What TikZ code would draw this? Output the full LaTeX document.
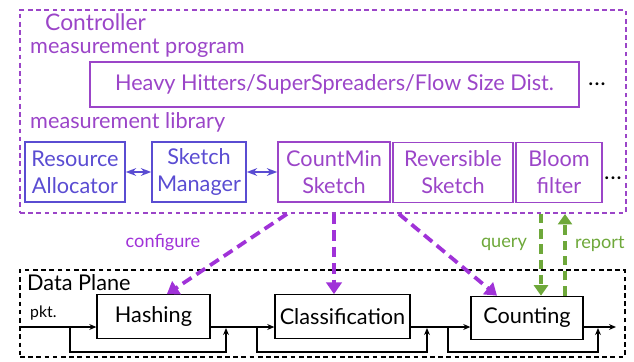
\documentclass[tikz,border=0pt]{standalone}
\usepackage{fontspec}
\setmainfont{Lato}
\usetikzlibrary{arrows.meta}
\definecolor{ctrlpurple}{HTML}{9B45C8}
\definecolor{libblue}{HTML}{5A4CD2}
\definecolor{cfgpurple}{HTML}{A032D8}
\definecolor{qgreen}{HTML}{6EA83A}
\tikzset{
  ctrlbox/.style={draw=ctrlpurple, line width=1.6pt, dash pattern=on 4pt off 3pt},
  dpbox/.style={draw=black, line width=1.6pt, dash pattern=on 4pt off 3pt},
  sketchbox/.style={draw=ctrlpurple, line width=1.3pt, text=ctrlpurple, align=center, inner sep=0pt, minimum height=1.8cm},
  allocbox/.style={sketchbox, draw=libblue, text=libblue},
  stagebox/.style={draw=black, line width=1.1pt, inner sep=0pt, minimum height=1.3cm},
  cfgarrow/.style={draw=cfgpurple, line width=3.2pt, dash pattern=on 9pt off 5pt, -{Triangle[width=13pt,length=10pt]}},
  qarrow/.style={draw=qgreen, line width=3pt, dash pattern=on 8pt off 5pt, -{Triangle[width=12pt,length=9pt]}},
  flow/.style={line width=1pt, -{Stealth[length=6pt,width=5pt]}},
  lbl/.style={inner sep=0pt, anchor=west},
  small/.style={font=\fontsize{15.5}{18}\selectfont},
  more/.style={font=\bfseries\fontsize{16}{18}\selectfont}
}
\begin{document}
\begin{tikzpicture}[>=Stealth, x=0.03cm, y=-0.03cm, font=\fontsize{18.5}{23}\selectfont]
\useasboundingbox (0,0) rectangle (634,362);
% controller
\node[ctrlbox, minimum width=18.18cm, minimum height=6.09cm] (ctrl) at (323,111.5) {};
\node[lbl, text=ctrlpurple, font=\fontsize{19.5}{22}\selectfont] (ctrltitle) at (45,22) {Controller};
\node[lbl, text=ctrlpurple] (progtitle) at (30,48) {measurement program};
\node[lbl, text=ctrlpurple] (libtitle) at (30,122) {measurement library};
\node[sketchbox, minimum width=14.67cm, minimum height=1.35cm] (prog) at (334.5,84.5) {Heavy Hitters/SuperSpreaders/Flow Size Dist.};
\node[more] (progmore) at (597,84) {.\kern1.5pt.\kern1.5pt.};
\node[allocbox, minimum width=3cm] (alloc) at (75,172) {Resource\\Allocator};
\node[allocbox, minimum width=2.82cm] (mgr) at (199,172) {Sketch\\Manager};
\node[sketchbox, minimum width=3.36cm] (cms) at (334,172) {CountMin\\Sketch};
\node[sketchbox, minimum width=3.6cm] (rev) at (453,172.5) {Reversible\\Sketch};
\node[sketchbox, minimum width=2.58cm] (bloom) at (559,172.5) {Bloom\\filter};
\node[more] (libmore) at (613,178) {.\kern1.5pt.\kern1.5pt.};
\draw[libblue, line width=1.3pt, <->] (alloc) -- (mgr);
\draw[libblue, line width=1.3pt, <->] (mgr) -- (cms);
% data plane
\node[dpbox, minimum width=18.15cm, minimum height=2.61cm] (dp) at (322.5,313.5) {};
\node[lbl] (dptitle) at (27,283) {Data Plane};
\node[lbl, font=\fontsize{13.5}{15}\selectfont] (pkt) at (30,313) {pkt.};
\node[stagebox, minimum width=3.39cm] (hash) at (153.5,316.5) {Hashing};
\node[stagebox, minimum width=4.05cm] (cls) at (342.5,316.5) {Classification};
\node[stagebox, minimum width=3.36cm] (cnt) at (527,318) {Counting};
\coordinate (pin) at (20,327);
\coordinate (pout) at (616,327);
\draw[flow] (pin) -- (pin -| hash.west);
\draw[flow] (hash.east |- pin) -- (cls.west |- pin);
\draw[flow] (cls.east |- pin) -- (cnt.west |- pin);
\draw[flow] (cnt.east |- pin) -- (pout);
\foreach \a/\b in {70/226, 257/427, 448/598}
{
    \draw[flow] (\a,327) -- (\a,352) -- (\b,352) -- (\b,328);
}
% controller to data plane
\draw[cfgarrow] ([xshift=-1.41cm]cms.south |- ctrl.south) -- ([xshift=0.4cm]hash.north);
\draw[cfgarrow] (cms.south |- ctrl.south) -- (cms.south |- cls.north);
\draw[cfgarrow] ([xshift=0.2cm]rev.south west |- ctrl.south) -- ([xshift=-0.9cm]cnt.north);
\node[small, text=cfgpurple] (cfglbl) at (163,242) {configure};
\draw[qarrow] ([xshift=-0.54cm]bloom.south |- ctrl.south) -- ([xshift=-0.54cm]bloom.south |- cnt.north);
\draw[qarrow] ([xshift=0.18cm]bloom.south |- cnt.north) -- ([xshift=0.18cm]bloom.south |- ctrl.south);
\node[small, text=qgreen, anchor=east] (qlbl) at (531,244) {query};
\node[small, text=qgreen, anchor=west] (rlbl) at (571,244) {report};
\end{tikzpicture}
\end{document}
